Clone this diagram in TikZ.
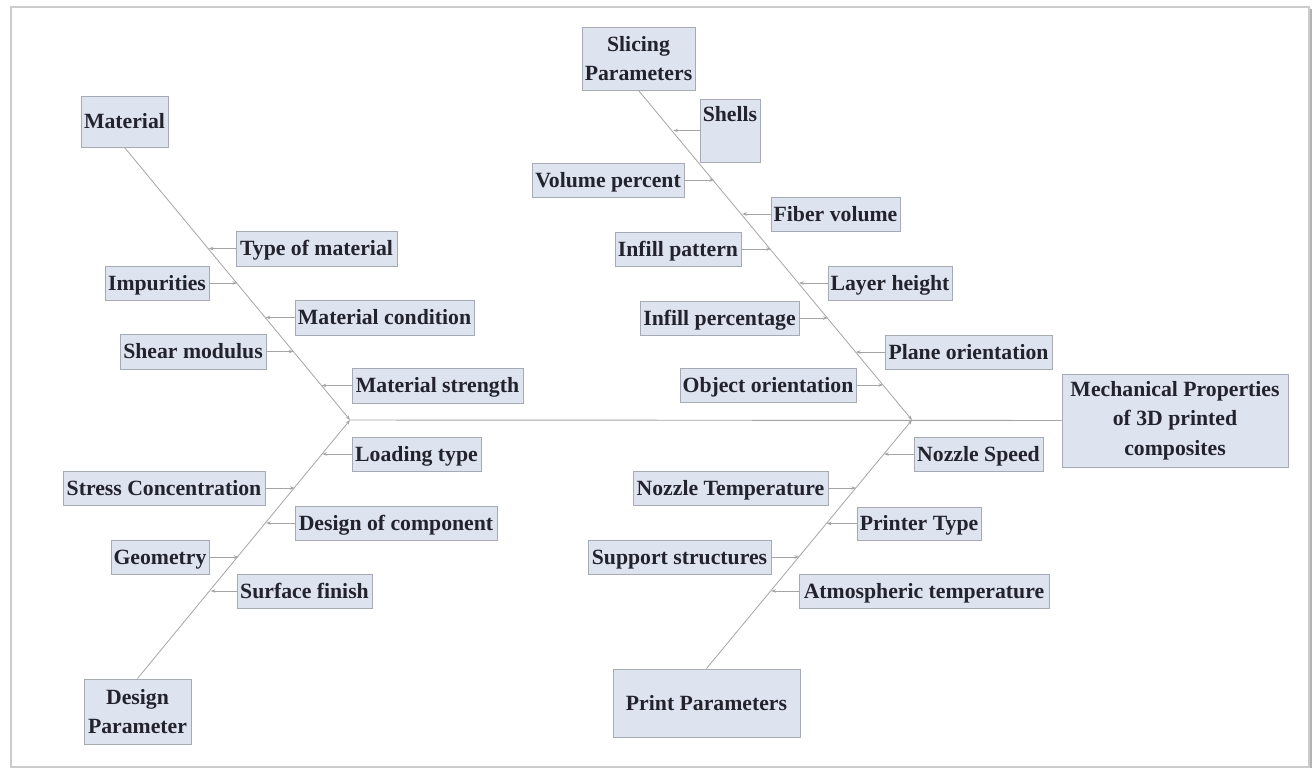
\documentclass[tikz,border=0pt]{standalone}
\usepackage{fontspec}
\setmainfont{Liberation Serif}
\usetikzlibrary{arrows.meta}
\definecolor{boxfill}{RGB}{221,228,240}
\definecolor{boxline}{RGB}{165,170,180}
\definecolor{txt}{RGB}{35,35,45}
\definecolor{bone}{RGB}{165,165,165}
\begin{document}
\begin{tikzpicture}[x=0.75pt,y=-0.75pt,
  cause/.style={draw=boxline, fill=boxfill, line width=0.7pt, inner sep=0pt,
    text=txt, font=\bfseries\fontsize{16.3}{22}\selectfont, align=center},
  oneline/.style={cause, text height=10.8pt, text depth=0pt},
  twig/.style={draw=bone, line width=0.6pt, -{Stealth[length=3.5pt,width=2.6pt]}},
  spine/.style={draw=bone, line width=0.7pt},
  frameline/.style={draw=gray!40, line width=1pt}]
\useasboundingbox[fill=white] (0,0) rectangle (1315,770);
\draw[frameline] (11,7) rectangle (1309,767);
\draw[draw=gray!60, line width=2pt] (1311,9) -- (1311,768);

% junctions
\coordinate (jl) at (350,420);
\coordinate (jr) at (912,420);

% head
\node[cause, minimum width=169.5pt, minimum height=69.75pt] (head) at (1175,420.5) {Mechanical Properties\\of 3D printed\\composites};

% categories
\node[oneline, minimum width=65.25pt, minimum height=38.25pt] (mat) at (124.5,121.5) {Material};
\node[cause, minimum width=80.25pt, minimum height=48.75pt] (dp) at (137.5,711.5) {Design\\Parameter};
\node[cause, minimum width=84.75pt, minimum height=47.25pt] (slc) at (638.5,58.5) {Slicing\\Parameters};
\node[oneline, minimum width=140.25pt, minimum height=51pt] (pp) at (706.5,703) {Print Parameters};

% material sub-causes
\node[oneline, minimum width=120.75pt, minimum height=26.25pt] (tom) at (316.5,248.5) {Type of material};
\node[oneline, minimum width=78pt, minimum height=25.5pt] (imp) at (157,283) {Impurities};
\node[oneline, minimum width=134.25pt, minimum height=26.25pt] (mcond) at (384.5,317.5) {Material condition};
\node[oneline, minimum width=109.5pt, minimum height=26.25pt] (shear) at (193,351.5) {Shear modulus};
\node[oneline, minimum width=128.25pt, minimum height=26.25pt] (mstr) at (437.5,385.5) {Material strength};

% design sub-causes
\node[oneline, minimum width=96.75pt, minimum height=25.5pt] (load) at (416.5,454) {Loading type};
\node[oneline, minimum width=151.5pt, minimum height=25.5pt] (stress) at (164,488) {Stress Concentration};
\node[oneline, minimum width=151.5pt, minimum height=25.5pt] (doc) at (396,523) {Design of component};
\node[oneline, minimum width=73.5pt, minimum height=25.5pt] (geo) at (160,557) {Geometry};
\node[oneline, minimum width=101.25pt, minimum height=25.5pt] (surf) at (304.5,591) {Surface finish};

% slicing sub-causes
\node[cause, minimum width=45pt, minimum height=47.25pt, text depth=25pt] (shells) at (730,130.5) {Shells};
\node[oneline, minimum width=114pt, minimum height=25.5pt] (volp) at (608,180) {Volume percent};
\node[oneline, minimum width=96.75pt, minimum height=25.5pt] (fib) at (835.5,214) {Fiber volume};
\node[oneline, minimum width=94.5pt, minimum height=25.5pt] (ipat) at (678,249) {Infill pattern};
\node[oneline, minimum width=93pt, minimum height=25.5pt] (lay) at (890,283) {Layer height};
\node[oneline, minimum width=119.25pt, minimum height=25.5pt] (iper) at (719.5,318) {Infill percentage};
\node[oneline, minimum width=125.25pt, minimum height=25.5pt] (plane) at (968.5,352) {Plane orientation};
\node[oneline, minimum width=132pt, minimum height=25.5pt] (obj) at (768,385) {Object orientation};

% print sub-causes
\node[oneline, minimum width=96.75pt, minimum height=25.5pt] (nsp) at (978.5,454) {Nozzle Speed};
\node[oneline, minimum width=146.25pt, minimum height=25.5pt] (ntemp) at (730.5,488) {Nozzle Temperature};
\node[oneline, minimum width=93pt, minimum height=24.75pt] (ptype) at (919,523.5) {Printer Type};
\node[oneline, minimum width=137.25pt, minimum height=25.5pt] (supp) at (679.5,557) {Support structures};
\node[oneline, minimum width=187.5pt, minimum height=25.5pt] (atm) at (924,591) {Atmospheric temperature};

% tip coordinates on bones
\coordinate (t-tom) at (208.7,248.5);
\coordinate (t-imp) at (237.1,283);
\coordinate (t-mcond) at (265.5,317.5);
\coordinate (t-shear) at (293.5,351.5);
\coordinate (t-mstr) at (321.6,385.5);
\coordinate (t-load) at (322.3,454);
\coordinate (t-stress) at (294.6,488);
\coordinate (t-doc) at (266.1,523);
\coordinate (t-geo) at (238.4,557);
\coordinate (t-surf) at (210.7,591);
\coordinate (t-shells) at (673.4,130.5);
\coordinate (t-volp) at (714.2,180);
\coordinate (t-fib) at (742.2,214);
\coordinate (t-ipat) at (771.0,249);
\coordinate (t-lay) at (799.1,283);
\coordinate (t-iper) at (827.9,318);
\coordinate (t-plane) at (855.9,352);
\coordinate (t-obj) at (883.1,385);
\coordinate (t-nsp) at (884.0,454);
\coordinate (t-ntemp) at (856.0,488);
\coordinate (t-ptype) at (826.8,523.5);
\coordinate (t-supp) at (799.2,557);
\coordinate (t-atm) at (771.2,591);

% spine and bones
\draw[spine] (jl) -- (head.west);
\draw[twig] (mat.south) -- (jl);
\draw[twig] (dp.north) -- (jl);
\draw[twig] (slc.south) -- (jr);
\draw[twig] (pp.north) -- (jr);

% twigs
\draw[twig] (tom.west) -- (t-tom);
\draw[twig] (imp.east) -- (t-imp);
\draw[twig] (mcond.west) -- (t-mcond);
\draw[twig] (shear.east) -- (t-shear);
\draw[twig] (mstr.west) -- (t-mstr);
\draw[twig] (load.west) -- (t-load);
\draw[twig] (stress.east) -- (t-stress);
\draw[twig] (doc.west) -- (t-doc);
\draw[twig] (geo.east) -- (t-geo);
\draw[twig] (surf.west) -- (t-surf);
\draw[twig] (shells.west |- t-shells) -- (t-shells);
\draw[twig] (volp.east) -- (t-volp);
\draw[twig] (fib.west) -- (t-fib);
\draw[twig] (ipat.east) -- (t-ipat);
\draw[twig] (lay.west) -- (t-lay);
\draw[twig] (iper.east) -- (t-iper);
\draw[twig] (plane.west) -- (t-plane);
\draw[twig] (obj.east) -- (t-obj);
\draw[twig] (nsp.west) -- (t-nsp);
\draw[twig] (ntemp.east) -- (t-ntemp);
\draw[twig] (ptype.west) -- (t-ptype);
\draw[twig] (supp.east) -- (t-supp);
\draw[twig] (atm.west) -- (t-atm);
\end{tikzpicture}
\end{document}
